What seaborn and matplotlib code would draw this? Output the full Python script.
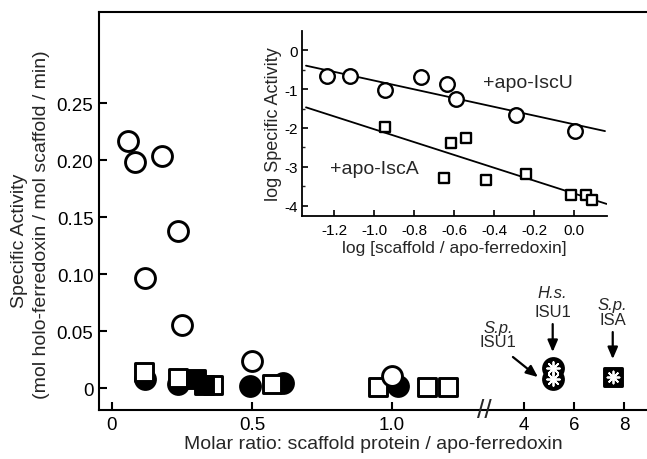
import numpy as np
import pandas as pd
import matplotlib
matplotlib.use("Agg")
import matplotlib.pyplot as plt
import seaborn as sns
from matplotlib.ticker import FixedLocator, FixedFormatter, NullLocator, MultipleLocator

# ---------------- data ----------------
open_circle_x = [0.058, 0.082, 0.18, 0.237, 0.118, 0.252, 0.501, 0.999]
open_circle_y = [0.217, 0.198, 0.204, 0.1375, 0.0965, 0.0553, 0.0234, 0.0108]

filled_circle_x = [0.118, 0.237, 0.493, 0.612, 1.023]
filled_circle_y = [0.0079, 0.0035, 0.002, 0.0044, 0.0015]

open_square_x = [0.114, 0.2375, 0.36, 0.570, 0.951, 1.124, 1.201]
open_square_y = [0.0138, 0.0088, 0.0026, 0.0035, 0.0008, 0.0005, 0.0005]

filled_square_x = [0.30, 0.33]
filled_square_y = [0.0079, 0.0026]

isu1_x = [5.15, 5.15]          # S.p. ISU1 (lower) and H.s. ISU1 (upper)
isu1_y = [0.0079, 0.0175]
isa_x = [7.55]                 # S.p. ISA
isa_y = [0.0094]

x_ticks = [0, 0.5, 1.0, 4, 6, 8]
x_ticklabels = ["0", "0.5", "1.0", "4", "6", "8"]
y_ticks = [0, 0.05, 0.10, 0.15, 0.20, 0.25]
y_ticklabels = ["0", "0.05", "0.10", "0.15", "0.20", "0.25"]

# inset (log-log)
iscu_logx = [-1.236, -1.12, -0.943, -0.767, -0.637, -0.59, -0.29, 0.005]
iscu_logy = [-0.67, -0.67, -1.02, -0.70, -0.87, -1.26, -1.66, -2.08]
isca_logx = [-0.943, -0.617, -0.54, -0.65, -0.44, -0.24, -0.015, 0.06, 0.088]
isca_logy = [-1.98, -2.38, -2.26, -3.29, -3.33, -3.18, -3.71, -3.71, -3.84]
iscu_fit_x = [-1.34, 0.155]
iscu_fit_y = [-0.40, -2.08]
isca_fit_x = [-1.34, 0.163]
isca_fit_y = [-1.47, -3.95]
inset_xticks = [-1.2, -1.0, -0.8, -0.6, -0.4, -0.2, 0.0]
inset_xticklabels = ["-1.2", "-1.0", "-0.8", "-0.6", "-0.4", "-0.2", "0.0"]
inset_yticks = [0, -1, -2, -3, -4]
inset_yticklabels = ["0", "-1", "-2", "-3", "-4"]

# ---------------- style ----------------
sns.set_style("ticks")
plt.rcParams["font.family"] = ["Liberation Sans", "DejaVu Sans"]
plt.rcParams["axes.unicode_minus"] = False

fig = plt.figure(figsize=(6.47, 4.60), dpi=100)
ax = fig.add_axes([99 / 647, 1 - 411 / 460, 1 - 99 / 647, (411 - 13) / 460])

# broken x scale: linear left part, compressed right part
DK = np.array([-10.0, 1.35, 2.9, 100.0])
LK = np.array([-10.0, 1.35, 1.471 + 0.0893 * (2.9 - 4), 1.471 + 0.0893 * 96])


def fwd(x):
    return np.interp(x, DK, LK)


def inv(x):
    return np.interp(x, LK, DK)


MS_C = 205
MS_S = 175
LW = 2.1

sns.scatterplot(x=filled_circle_x, y=filled_circle_y, marker="o", s=MS_C,
                color="black", edgecolor="black", linewidth=LW, ax=ax, zorder=3)
sns.scatterplot(x=open_square_x, y=open_square_y, marker="s", s=MS_S,
                color="white", edgecolor="black", linewidth=LW, ax=ax, zorder=4)
sns.scatterplot(x=filled_square_x, y=filled_square_y, marker="s", s=MS_S,
                color="black", edgecolor="black", linewidth=LW, ax=ax, zorder=5)
sns.scatterplot(x=open_circle_x, y=open_circle_y, marker="o", s=MS_C,
                color="white", edgecolor="black", linewidth=LW, ax=ax, zorder=6)
# special asterisk markers
sns.scatterplot(x=isu1_x, y=isu1_y, marker="o", s=MS_C,
                color="black", edgecolor="black", linewidth=LW, ax=ax, zorder=6)
sns.scatterplot(x=isu1_x, y=isu1_y, marker=(8, 2, 0), s=85,
                color="white", edgecolor="white", linewidth=1.3, ax=ax, zorder=7)
sns.scatterplot(x=isa_x, y=isa_y, marker="s", s=MS_S,
                color="black", edgecolor="black", linewidth=LW, ax=ax, zorder=6)
sns.scatterplot(x=isa_x, y=isa_y, marker=(8, 2, 0), s=75,
                color="white", edgecolor="white", linewidth=1.3, ax=ax, zorder=7)

ax.set_xscale("function", functions=(fwd, inv))
ax.set_xlim(-0.046, 8.92)
ax.set_ylim(-0.0193, 0.33)
ax.xaxis.set_major_locator(FixedLocator(x_ticks))
ax.xaxis.set_major_formatter(FixedFormatter(x_ticklabels))
ax.xaxis.set_minor_locator(NullLocator())
ax.yaxis.set_major_locator(FixedLocator(y_ticks))
ax.yaxis.set_major_formatter(FixedFormatter(y_ticklabels))
ax.yaxis.set_minor_locator(NullLocator())
ax.tick_params(direction="in", length=6, width=1.5, labelsize=13.5, pad=4, colors="black")
ax.tick_params(axis="x", pad=4)
for side in ["left", "bottom", "top"]:
    ax.spines[side].set_linewidth(1.5)
    ax.spines[side].set_color("black")
ax.spines["right"].set_visible(False)
ax.set_xlabel("Molar ratio: scaffold protein / apo-ferredoxin", fontsize=14, labelpad=2)
ax.set_ylabel("")

fig.text(20 / 647, 1 - 241 / 460, "Specific Activity", rotation=90,
         ha="center", va="center", fontsize=14)
fig.text(42 / 647, 1 - 225 / 460, "(mol holo-ferredoxin / mol scaffold / min)",
         rotation=90, ha="center", va="center", fontsize=14)

# axis break marks
ax.text(1.33, 0.0, "//", transform=ax.get_xaxis_transform(), ha="center",
        va="center", fontsize=19, rotation=0)

# annotations
arrow = dict(arrowstyle="-|>,head_length=0.7,head_width=0.3", color="black", lw=1.6,
             shrinkA=0, shrinkB=0)
ax.annotate("", xy=(5.15, 0.0316), xytext=(5.15, 0.0561), arrowprops=arrow)
ax.text(5.15, 0.0842, "H.s.", style="italic", ha="center", va="center", fontsize=12)
ax.text(5.15, 0.0675, "ISU1", ha="center", va="center", fontsize=12)

ax.annotate("", xy=(7.55, 0.0254), xytext=(7.55, 0.0491), arrowprops=arrow)
ax.text(7.55, 0.0737, "S.p.", style="italic", ha="center", va="center", fontsize=12)
ax.text(7.55, 0.0605, "ISA", ha="center", va="center", fontsize=12)

ax.annotate("", xy=(4.56, 0.0096), xytext=(3.56, 0.0272), arrowprops=arrow)
ax.text(2.96, 0.0535, "S.p.", style="italic", ha="center", va="center", fontsize=12)
ax.text(2.96, 0.0412, "ISU1", ha="center", va="center", fontsize=12)

# ---------------- inset ----------------
ins = fig.add_axes([302 / 647, 1 - 217 / 460, (607 - 302) / 647, (217 - 32) / 460])
sns.lineplot(x=iscu_fit_x, y=iscu_fit_y, color="black", lw=1.3, ax=ins)
sns.lineplot(x=isca_fit_x, y=isca_fit_y, color="black", lw=1.3, ax=ins)
sns.scatterplot(x=iscu_logx, y=iscu_logy, marker="o", s=110, color="white",
                edgecolor="black", linewidth=1.7, ax=ins, zorder=4)
sns.scatterplot(x=isca_logx, y=isca_logy, marker="s", s=62, color="white",
                edgecolor="black", linewidth=1.7, ax=ins, zorder=4)
ins.set_xlim(-1.36, 0.165)
ins.set_ylim(-4.26, 0.49)
ins.xaxis.set_major_locator(FixedLocator(inset_xticks))
ins.xaxis.set_major_formatter(FixedFormatter(inset_xticklabels))
ins.yaxis.set_major_locator(FixedLocator(inset_yticks))
ins.yaxis.set_major_formatter(FixedFormatter(inset_yticklabels))
ins.yaxis.set_minor_locator(MultipleLocator(0.5))
ins.xaxis.set_minor_locator(NullLocator())
ins.tick_params(direction="in", length=4, width=1.2, labelsize=11, pad=3, colors="black")
ins.tick_params(which="minor", direction="in", length=2.5, width=1.0)
ins.tick_params(axis="x", pad=5)
for side in ["left", "bottom"]:
    ins.spines[side].set_linewidth(1.3)
    ins.spines[side].set_color("black")
ins.spines["top"].set_visible(False)
ins.spines["right"].set_visible(False)
ins.patch.set_alpha(0)
ins.set_xlabel("log [scaffold / apo-ferredoxin]", fontsize=12.5, labelpad=2)
ins.set_ylabel("log Specific Activity", fontsize=13, labelpad=2)
ins.text(-0.455, -0.82, "+apo-IscU", ha="left", va="center", fontsize=14)
ins.text(-1.22, -3.05, "+apo-IscA", ha="left", va="center", fontsize=14)

fig.savefig("out.png", dpi=100)
